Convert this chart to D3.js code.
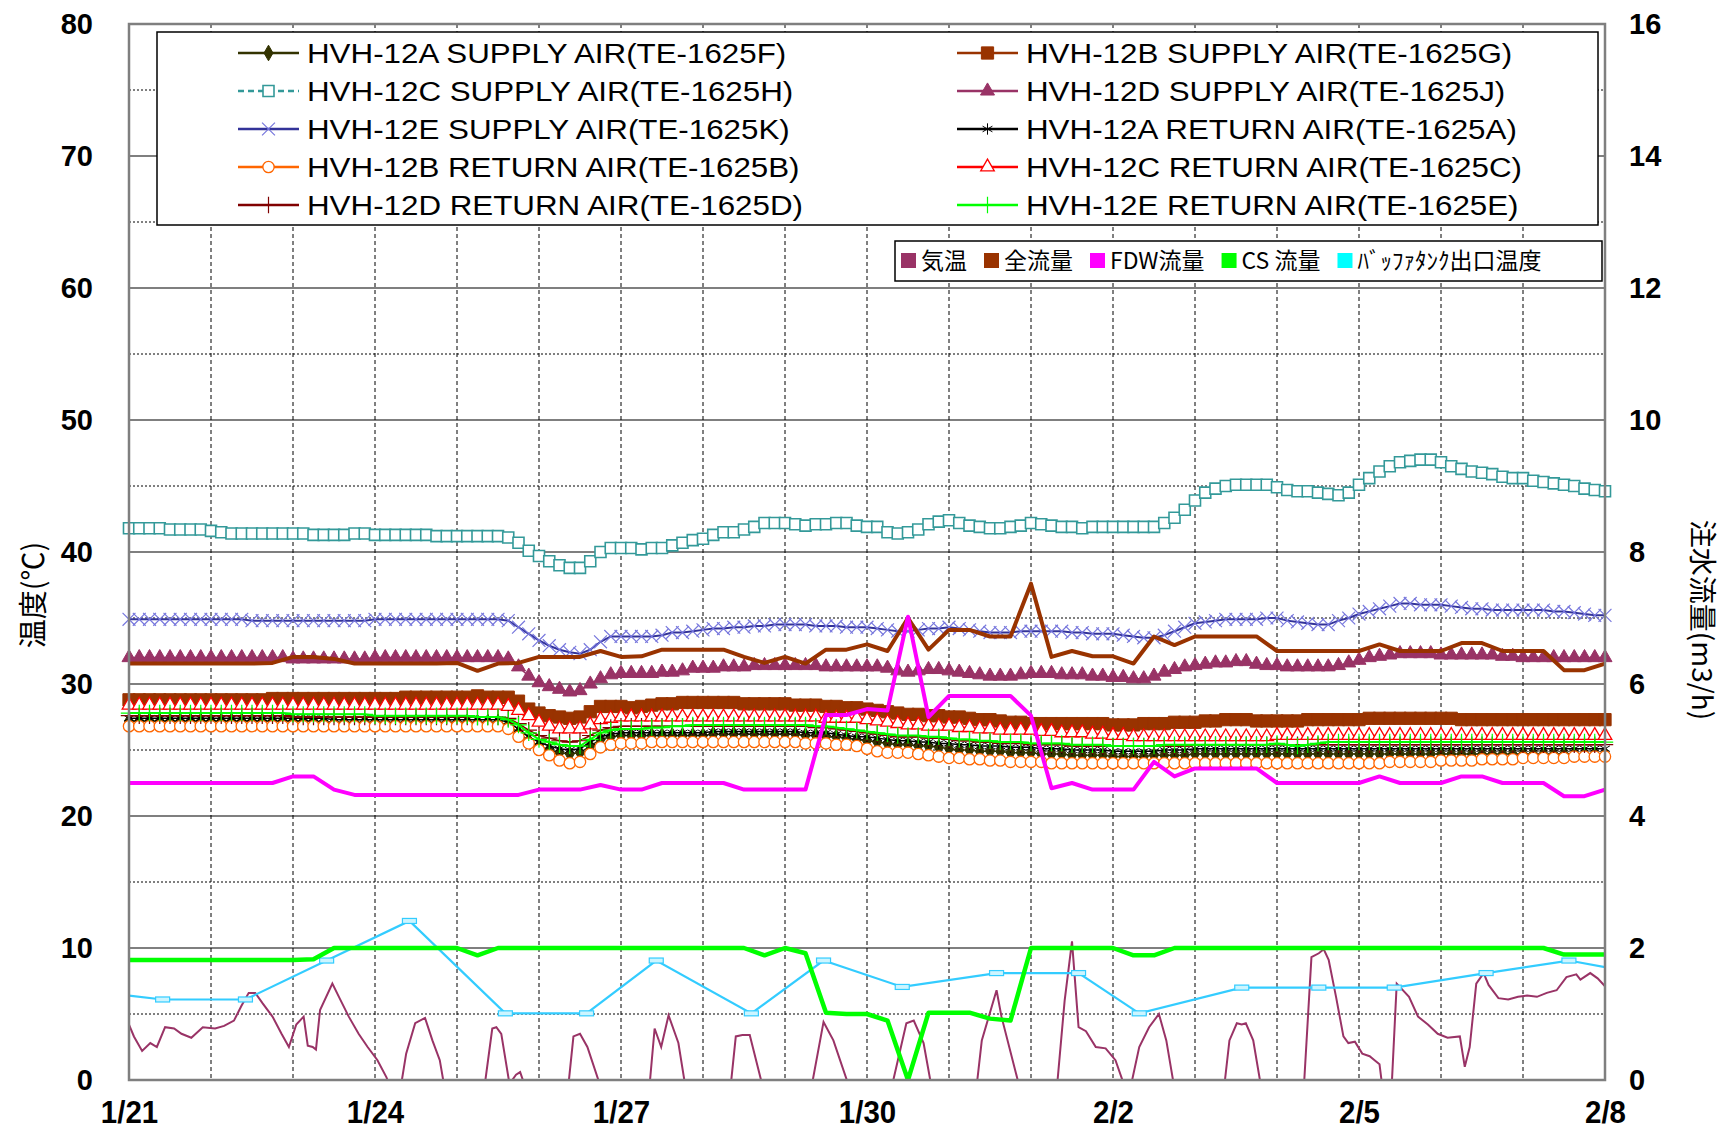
<!DOCTYPE html>
<html>
<head>
<meta charset="utf-8">
<script src="https://cdn.jsdelivr.net/npm/d3@7"></script>
<style>
  body { margin: 0; background: #fff; }
  text { font-family: "Liberation Sans", Arial, sans-serif; fill: #000; }
  .jp { font-family: "Noto Sans CJK JP", sans-serif; }
</style>
</head>
<body>
<svg id="chart" width="1724" height="1131"></svg>
<script>
// ---- data ----
// x axis: days counted from 1/21 0:00
const dateLabels = ['1/21', '1/24', '1/27', '1/30', '2/2', '2/5', '2/8'];
const dateTickDays = [0, 3, 6, 9, 12, 15, 18];
const tempTicks = [0, 10, 20, 30, 40, 50, 60, 70, 80];
const flowTicks = [0, 2, 4, 6, 8, 10, 12, 14, 16];

// HVH temperatures, one reading every 3 hours (8 per day), degC
const hvhStepDays = 0.125;
const hvh12aSupply = [
  27.2,27.2,27.2,27.2,27.2,27.2,27.2,27.2, 27.2,27.2,27.2,27.2,27.2,27.2,27.2,27.2,
  27.2,27.2,27.2,27.1,27.1,27.1,27.1,27.1, 27.1,27.1,27.1,27.1,27.1,27.1,27.1,27.1,
  27.1,27.1,27.1,27.1,27.1,26.9,26.3,25.7, 25.3,25.0,24.8,24.7,24.8,25.3,25.8,26.0,
  26.1,26.1,26.1,26.1,26.1,26.1,26.1,26.1, 26.1,26.2,26.2,26.2,26.2,26.2,26.2,26.2,
  26.2,26.2,26.1,26.1,26.0,26.0,25.9,25.8, 25.7,25.6,25.5,25.4,25.4,25.3,25.3,25.2,
  25.1,25.0,25.0,24.9,24.9,24.9,24.8,24.8, 24.8,24.7,24.7,24.7,24.6,24.6,24.6,24.6,
  24.5,24.5,24.5,24.5,24.6,24.6,24.6,24.6, 24.7,24.7,24.7,24.7,24.7,24.7,24.7,24.7,
  24.7,24.7,24.7,24.7,24.7,24.7,24.7,24.7, 24.7,24.7,24.7,24.7,24.7,24.7,24.7,24.7,
  24.7,24.7,24.7,24.7,24.7,24.7,24.7,24.7, 24.7,24.7,24.7,24.7,24.7,24.7,24.7,24.7,
  24.7
];
const hvh12bSupply = [
  28.8,28.8,28.8,28.8,28.8,28.8,28.8,28.8, 28.8,28.8,28.8,28.8,28.8,28.8,28.9,28.9,
  28.9,28.9,28.9,28.9,28.9,28.9,28.9,28.9, 28.9,28.9,28.9,29.0,29.0,29.0,29.0,29.0,
  29.0,29.0,29.1,29.0,29.0,29.0,28.7,28.1, 27.8,27.6,27.5,27.4,27.5,27.9,28.3,28.3,
  28.3,28.2,28.3,28.4,28.5,28.5,28.6,28.6, 28.6,28.6,28.6,28.6,28.5,28.5,28.5,28.5,
  28.5,28.4,28.4,28.4,28.3,28.3,28.2,28.2, 28.1,28.0,27.9,27.8,27.7,27.7,27.6,27.6,
  27.5,27.5,27.4,27.3,27.3,27.2,27.1,27.1, 27.0,27.0,27.0,27.0,27.0,27.0,27.0,27.0,
  26.9,26.9,26.9,27.0,27.0,27.0,27.1,27.1, 27.1,27.2,27.2,27.3,27.3,27.3,27.2,27.2,
  27.2,27.2,27.2,27.3,27.3,27.3,27.3,27.3, 27.3,27.4,27.4,27.4,27.4,27.4,27.4,27.4,
  27.4,27.4,27.3,27.3,27.3,27.3,27.3,27.3, 27.3,27.3,27.3,27.3,27.3,27.3,27.3,27.3,
  27.3
];
const hvh12cSupply = [
  41.8,41.8,41.8,41.8,41.7,41.7,41.7,41.7, 41.6,41.5,41.4,41.4,41.4,41.4,41.4,41.4,
  41.4,41.4,41.3,41.3,41.3,41.3,41.4,41.4, 41.3,41.3,41.3,41.3,41.3,41.3,41.2,41.2,
  41.2,41.2,41.2,41.2,41.2,41.1,40.7,40.1, 39.7,39.3,39.0,38.8,38.8,39.3,40.0,40.3,
  40.3,40.3,40.2,40.3,40.3,40.5,40.7,40.9, 41.0,41.3,41.5,41.5,41.7,41.9,42.2,42.2,
  42.2,42.1,42.0,42.1,42.1,42.2,42.2,42.0, 41.9,41.9,41.5,41.4,41.5,41.7,42.1,42.3,
  42.4,42.2,42.0,41.9,41.8,41.8,41.9,42.0, 42.2,42.1,42.0,41.9,41.9,41.8,41.9,41.9,
  41.9,41.9,41.9,41.9,41.9,42.2,42.6,43.2, 43.9,44.5,44.8,45.0,45.1,45.1,45.1,45.1,
  44.9,44.7,44.6,44.6,44.5,44.4,44.3,44.5, 45.1,45.6,46.1,46.5,46.8,46.9,47.0,47.0,
  46.8,46.5,46.3,46.1,46.0,45.9,45.7,45.6, 45.6,45.4,45.3,45.2,45.1,45.0,44.8,44.7,
  44.6
];
const hvh12dSupply = [
  32.0,32.0,32.0,32.0,32.0,32.0,32.0,32.0, 32.0,32.0,32.0,32.0,32.0,32.0,32.0,32.0,
  31.9,31.9,31.9,31.9,31.9,31.9,31.9,31.9, 32.0,32.0,32.0,32.0,32.0,32.0,32.0,32.0,
  32.0,32.0,32.0,32.0,32.0,31.9,31.3,30.6, 30.1,29.8,29.6,29.4,29.5,30.0,30.4,30.7,
  30.8,30.8,30.8,30.8,30.9,30.9,31.0,31.2, 31.2,31.2,31.3,31.3,31.3,31.4,31.4,31.4,
  31.4,31.4,31.4,31.4,31.3,31.3,31.3,31.3, 31.3,31.3,31.2,31.0,30.9,31.0,31.1,31.1,
  31.0,30.9,30.8,30.7,30.6,30.6,30.6,30.7, 30.8,30.8,30.8,30.7,30.7,30.7,30.6,30.6,
  30.5,30.5,30.4,30.4,30.6,30.9,31.1,31.3, 31.4,31.5,31.6,31.6,31.7,31.7,31.5,31.4,
  31.4,31.3,31.3,31.3,31.3,31.3,31.4,31.6, 31.8,32.0,32.1,32.2,32.3,32.3,32.3,32.3,
  32.2,32.2,32.2,32.2,32.2,32.2,32.1,32.1, 32.0,32.0,32.0,32.0,32.0,32.0,32.0,32.0,
  32.0
];
const hvh12eSupply = [
  34.9,34.9,34.9,34.9,34.9,34.9,34.9,34.9, 34.9,34.9,34.9,34.9,34.8,34.8,34.8,34.8,
  34.8,34.8,34.8,34.8,34.8,34.8,34.8,34.8, 34.9,34.9,34.9,34.9,34.9,34.9,34.9,34.9,
  34.9,34.9,34.9,34.9,34.9,34.8,34.3,33.8, 33.3,32.9,32.6,32.4,32.3,32.6,33.2,33.6,
  33.6,33.6,33.6,33.6,33.7,33.9,33.9,34.0, 34.1,34.2,34.2,34.3,34.3,34.4,34.4,34.5,
  34.5,34.5,34.5,34.4,34.4,34.4,34.3,34.3, 34.3,34.2,34.1,34.0,34.0,34.1,34.2,34.2,
  34.3,34.2,34.1,34.0,33.9,33.9,33.9,34.0, 34.0,34.0,34.0,34.0,33.9,33.9,33.8,33.8,
  33.8,33.7,33.6,33.5,33.5,33.7,34.0,34.3, 34.6,34.7,34.8,34.9,34.9,34.9,34.9,35.0,
  35.0,34.8,34.7,34.6,34.5,34.5,34.8,35.0, 35.3,35.5,35.7,35.9,36.1,36.1,36.0,36.0,
  36.0,35.9,35.8,35.7,35.7,35.6,35.6,35.6, 35.6,35.6,35.6,35.5,35.5,35.4,35.3,35.2,
  35.2
];
const hvh12aReturn = [
  27.4,27.4,27.4,27.4,27.4,27.4,27.4,27.4, 27.4,27.4,27.4,27.4,27.4,27.4,27.4,27.4,
  27.4,27.4,27.4,27.4,27.3,27.3,27.3,27.3, 27.3,27.3,27.3,27.3,27.3,27.3,27.3,27.3,
  27.3,27.3,27.3,27.3,27.3,27.1,26.6,26.0, 25.6,25.3,25.1,25.0,25.1,25.6,26.0,26.2,
  26.3,26.3,26.3,26.3,26.3,26.3,26.3,26.3, 26.3,26.4,26.4,26.4,26.4,26.4,26.4,26.4,
  26.4,26.4,26.3,26.3,26.3,26.2,26.1,26.0, 26.0,25.9,25.8,25.7,25.7,25.6,25.6,25.5,
  25.5,25.4,25.4,25.3,25.3,25.3,25.2,25.2, 25.2,25.1,25.1,25.1,25.0,25.0,25.0,25.0,
  24.9,24.9,24.9,24.9,24.9,25.0,25.0,25.0, 25.1,25.1,25.1,25.1,25.1,25.1,25.1,25.1,
  25.1,25.1,25.1,25.1,25.1,25.1,25.1,25.1, 25.1,25.1,25.1,25.1,25.1,25.1,25.1,25.1,
  25.1,25.1,25.1,25.1,25.1,25.1,25.1,25.1, 25.1,25.1,25.1,25.1,25.1,25.1,25.1,25.1,
  25.1
];
const hvh12bReturn = [
  26.8,26.8,26.8,26.8,26.8,26.8,26.8,26.8, 26.8,26.8,26.8,26.8,26.8,26.8,26.8,26.8,
  26.8,26.8,26.8,26.8,26.8,26.8,26.8,26.8, 26.8,26.8,26.8,26.8,26.8,26.8,26.8,26.8,
  26.8,26.8,26.8,26.8,26.8,26.6,26.0,25.5, 25.0,24.6,24.2,24.0,24.1,24.7,25.2,25.4,
  25.5,25.5,25.5,25.6,25.6,25.6,25.6,25.6, 25.6,25.6,25.6,25.6,25.6,25.6,25.6,25.6,
  25.6,25.6,25.5,25.5,25.5,25.4,25.4,25.3, 25.1,24.9,24.8,24.8,24.8,24.7,24.6,24.5,
  24.4,24.4,24.3,24.3,24.2,24.2,24.1,24.1, 24.1,24.1,24.0,24.0,24.0,24.0,24.0,24.0,
  24.0,24.0,24.0,24.0,24.0,24.0,24.0,24.0, 24.0,24.0,24.0,24.0,24.0,24.0,24.0,24.0,
  24.0,24.0,24.0,24.0,24.0,24.0,24.0,24.0, 24.0,24.0,24.0,24.1,24.1,24.1,24.1,24.1,
  24.2,24.2,24.2,24.2,24.3,24.3,24.3,24.3, 24.4,24.4,24.4,24.4,24.4,24.5,24.5,24.5,
  24.5
];
const hvh12cReturn = [
  28.4,28.4,28.4,28.4,28.4,28.4,28.4,28.4, 28.4,28.4,28.4,28.4,28.4,28.4,28.4,28.4,
  28.4,28.4,28.4,28.4,28.4,28.4,28.4,28.4, 28.4,28.4,28.4,28.4,28.4,28.4,28.4,28.4,
  28.4,28.4,28.4,28.4,28.4,28.3,28.0,27.6, 27.1,26.8,26.6,26.6,26.6,26.9,27.3,27.4,
  27.5,27.5,27.5,27.5,27.5,27.5,27.5,27.5, 27.5,27.5,27.5,27.5,27.5,27.5,27.5,27.5,
  27.5,27.5,27.5,27.5,27.4,27.4,27.4,27.4, 27.3,27.2,27.1,27.0,26.9,26.9,26.8,26.8,
  26.8,26.7,26.7,26.6,26.6,26.5,26.5,26.5, 26.5,26.4,26.4,26.3,26.3,26.3,26.2,26.2,
  26.1,26.1,26.0,26.0,26.0,26.0,26.0,26.0, 26.0,26.0,26.0,26.0,26.0,26.0,26.0,26.0,
  26.1,26.1,26.1,26.1,26.1,26.1,26.1,26.1, 26.1,26.1,26.1,26.1,26.1,26.1,26.1,26.1,
  26.1,26.1,26.1,26.1,26.1,26.1,26.1,26.1, 26.1,26.1,26.1,26.1,26.1,26.1,26.1,26.1,
  26.1
];
const hvh12dReturn = [
  27.6,27.6,27.6,27.6,27.6,27.6,27.6,27.6, 27.6,27.6,27.6,27.6,27.6,27.6,27.6,27.6,
  27.5,27.5,27.5,27.5,27.5,27.5,27.5,27.5, 27.5,27.5,27.5,27.5,27.5,27.5,27.5,27.5,
  27.5,27.5,27.5,27.5,27.5,27.4,27.0,26.5, 26.1,25.9,25.7,25.6,25.7,26.1,26.5,26.7,
  26.8,26.8,26.8,26.8,26.8,26.8,26.8,26.8, 26.8,26.8,26.8,26.8,26.8,26.8,26.8,26.8,
  26.8,26.8,26.8,26.7,26.7,26.6,26.5,26.4, 26.3,26.2,26.1,26.0,26.0,26.0,25.9,25.9,
  25.8,25.7,25.7,25.6,25.6,25.5,25.5,25.5, 25.4,25.4,25.4,25.4,25.3,25.3,25.3,25.3,
  25.3,25.3,25.3,25.3,25.3,25.3,25.3,25.3, 25.4,25.4,25.4,25.4,25.4,25.4,25.4,25.4,
  25.4,25.4,25.4,25.4,25.4,25.4,25.4,25.4, 25.4,25.4,25.4,25.4,25.4,25.4,25.4,25.4,
  25.4,25.4,25.4,25.4,25.4,25.4,25.4,25.4, 25.4,25.4,25.4,25.4,25.4,25.4,25.4,25.4,
  25.4
];
const hvh12eReturn = [
  27.8,27.8,27.8,27.8,27.8,27.8,27.8,27.8, 27.8,27.8,27.8,27.8,27.8,27.8,27.8,27.8,
  27.7,27.7,27.7,27.7,27.7,27.7,27.7,27.7, 27.6,27.6,27.6,27.6,27.6,27.6,27.6,27.6,
  27.6,27.6,27.5,27.5,27.5,27.3,26.9,26.3, 25.8,25.6,25.4,25.3,25.3,25.8,26.3,26.5,
  26.6,26.6,26.6,26.7,26.7,26.8,26.8,26.9, 26.9,26.9,26.9,26.9,26.9,26.9,26.9,26.9,
  26.9,26.9,26.9,26.8,26.8,26.7,26.6,26.5, 26.4,26.3,26.2,26.1,26.1,26.1,26.0,26.0,
  25.9,25.8,25.8,25.7,25.7,25.6,25.6,25.6, 25.5,25.5,25.5,25.5,25.4,25.4,25.4,25.4,
  25.3,25.3,25.3,25.3,25.3,25.4,25.4,25.4, 25.4,25.4,25.4,25.4,25.4,25.4,25.4,25.4,
  25.5,25.4,25.3,25.4,25.5,25.6,25.6,25.6, 25.6,25.6,25.6,25.6,25.6,25.6,25.6,25.6,
  25.6,25.6,25.6,25.6,25.6,25.6,25.6,25.6, 25.6,25.6,25.6,25.6,25.6,25.6,25.6,25.6,
  25.6
];

// outdoor air temperature [day, degC] (below 0 is cut off by the axis)
const airTemp = [
  [0,4.2],[0.06,3.3],[0.16,2.2],[0.26,2.8],[0.34,2.5],[0.44,4.0],[0.55,3.9],[0.64,3.5],[0.76,3.2],[0.9,4.0],
  [1.05,3.9],[1.16,4.1],[1.28,4.5],[1.37,5.6],[1.46,6.6],[1.54,6.6],[1.63,5.8],[1.75,4.8],[1.86,3.5],[1.95,2.5],
  [2.04,4.2],[2.13,4.8],[2.18,2.6],[2.24,2.5],[2.28,2.3],[2.33,5.3],[2.48,7.3],[2.56,6.3],[2.68,4.8],[2.8,3.5],
  [2.91,2.5],[3.03,1.5],[3.14,0.2],[3.17,-0.3],[3.25,-3],[3.32,-0.3],[3.38,2.0],[3.49,4.3],[3.61,4.7],[3.7,3.0],
  [3.79,1.5],[3.84,-0.3],[4.1,-3],[4.34,-0.3],[4.43,3.9],[4.48,4.0],[4.54,3.5],[4.64,-0.3],[4.72,0.4],[4.77,0.6],
  [4.82,-0.3],[5.1,-3],[5.36,-0.3],[5.42,3.3],[5.5,3.5],[5.59,2.5],[5.74,-0.3],[6.0,-3],[6.35,-0.3],[6.41,3.9],
  [6.49,2.5],[6.58,4.9],[6.7,2.8],[6.78,-0.3],[7.0,-3],[7.34,-0.3],[7.4,3.3],[7.48,3.4],[7.57,3.4],[7.72,-0.3],
  [8.0,-3],[8.33,-0.3],[8.47,4.4],[8.59,3.0],[8.77,-0.3],[9.0,-3],[9.31,-0.3],[9.48,4.3],[9.57,4.5],[9.69,2.8],
  [9.78,-0.3],[10.0,-3],[10.34,-0.3],[10.4,3.0],[10.58,6.8],[10.64,4.8],[10.85,-0.3],[11.1,-3],[11.32,-0.3],[11.41,6.0],
  [11.5,10.5],[11.58,4.0],[11.67,3.7],[11.79,2.5],[11.91,2.4],[12.03,1.5],[12.12,-0.1],[12.23,-0.1],[12.32,2.5],[12.44,4.0],
  [12.56,5.0],[12.65,3.0],[12.74,-0.3],[13.0,-3],[13.36,-0.3],[13.42,3.0],[13.51,4.3],[13.57,4.2],[13.62,4.3],[13.71,3.0],
  [13.8,-0.3],[14.1,-3],[14.33,-0.3],[14.42,9.3],[14.51,9.6],[14.57,9.9],[14.63,9.1],[14.72,6.3],[14.81,3.3],[14.87,2.8],
  [14.95,2.9],[15.04,2.0],[15.13,1.8],[15.19,1.5],[15.25,1.2],[15.28,-0.3],[15.34,-1],[15.4,-0.3],[15.46,7.3],[15.52,6.9],
  [15.61,6.3],[15.72,4.8],[15.84,4.2],[15.96,3.5],[16.08,3.2],[16.23,3.3],[16.29,1.0],[16.35,2.5],[16.43,7.3],[16.52,8.1],
  [16.58,7.2],[16.7,6.2],[16.82,6.1],[16.94,6.3],[17.05,6.4],[17.17,6.3],[17.29,6.6],[17.41,6.8],[17.53,7.8],[17.65,8.0],
  [17.7,7.6],[17.82,8.1],[17.91,7.7],[18.0,7.1]
];

// buffer tank outlet temperature [day, degC]
const bufferTemp = [
  [0,6.4],[0.41,6.1],[1.42,6.1],[2.41,9.05],[3.42,12.05],[4.59,5.05],[5.58,5.05],[6.43,9.05],[7.59,5.05],[8.47,9.05],
  [9.43,7.05],[10.58,8.1],[11.58,8.1],[12.32,5.05],[13.57,7.0],[14.51,7.0],[15.43,7.0],[16.55,8.1],[17.56,9.05],[18,8.55]
];

// injection flows, one reading every 6 hours (4 per day), m3/h
const flowStepDays = 0.25;
const totalFlow = [
  6.31,6.31,6.31,6.31, 6.31,6.31,6.31,6.32, 6.41,6.41,6.38,6.31, 6.31,6.31,6.31,6.31,
  6.32,6.20,6.31,6.32, 6.41,6.41,6.41,6.50, 6.41,6.42,6.52,6.52, 6.52,6.52,6.41,6.32,
  6.41,6.31,6.52,6.52, 6.60,6.50,7.00,6.52, 6.82,6.82,6.72,6.72, 7.52,6.41,6.50,6.42,
  6.42,6.31,6.72,6.59, 6.72,6.72,6.72,6.72, 6.50,6.50,6.50,6.50, 6.50,6.60,6.50,6.50,
  6.50,6.62,6.62,6.50, 6.50,6.50,6.21,6.21, 6.31
];
const fdwFlow = [
  4.5,4.5,4.5,4.5, 4.5,4.5,4.5,4.5, 4.6,4.6,4.4,4.32, 4.32,4.32,4.32,4.32,
  4.32,4.32,4.32,4.32, 4.4,4.4,4.4,4.47, 4.4,4.4,4.5,4.5, 4.5,4.5,4.4,4.4,
  4.4,4.4,5.53,5.53, 5.62,5.6,7.02,5.5, 5.82,5.82,5.82,5.82, 5.52,4.42,4.5,4.4,
  4.4,4.4,4.82,4.6, 4.72,4.72,4.72,4.72, 4.5,4.5,4.5,4.5, 4.5,4.6,4.5,4.5,
  4.5,4.6,4.6,4.5, 4.5,4.5,4.3,4.3, 4.4
];
const csFlow = [
  1.82,1.82,1.82,1.82, 1.82,1.82,1.82,1.82, 1.82,1.83,2.0,2.0, 2.0,2.0,2.0,2.0,
  2.0,1.89,2.0,2.0, 2.0,2.0,2.0,2.0, 2.0,2.0,2.0,2.0, 2.0,2.0,2.0,1.89,
  2.0,1.92,1.02,1.0, 1.0,0.9,0.0,1.02, 1.02,1.02,0.93,0.9, 2.0,2.0,2.0,2.0,
  2.0,1.89,1.89,2.0, 2.0,2.0,2.0,2.0, 2.0,2.0,2.0,2.0, 2.0,2.0,2.0,2.0,
  2.0,2.0,2.0,2.0, 2.0,2.0,1.9,1.9, 1.9
];

// ---- chart ----
const svg = d3.select('#chart');
const L = 129, R = 1605, T = 24, B = 1080;

const x = d3.scaleLinear().domain([0, 18]).range([L, R]);
const yL = d3.scaleLinear().domain([0, 80]).range([B, T]);
const yR = d3.scaleLinear().domain([0, 16]).range([B, T]);

// stretch text horizontally like the original rendering
function stretch(sel, f) {
  sel.each(function() {
    const w = this.getComputedTextLength();
    this.setAttribute('textLength', w * f);
    this.setAttribute('lengthAdjust', 'spacingAndGlyphs');
  });
}

svg.append('clipPath').attr('id', 'plotClip')
  .append('rect').attr('x', L).attr('y', T).attr('width', R - L).attr('height', B - T);

svg.append('rect').attr('x', L).attr('y', T).attr('width', R - L).attr('height', B - T).attr('fill', '#fff');

// grid
const grid = svg.append('g');
grid.selectAll('line.h').data(d3.range(5, 80, 5)).join('line')
  .attr('x1', L).attr('x2', R)
  .attr('y1', d => yL(d)).attr('y2', d => yL(d))
  .attr('stroke', d => d % 10 === 0 ? '#7f7f7f' : '#000')
  .attr('stroke-width', d => d % 10 === 0 ? 2 : 1)
  .attr('stroke-dasharray', d => d % 10 === 0 ? null : '2,2');
grid.selectAll('line.v').data(d3.range(1, 18)).join('line')
  .attr('x1', d => x(d)).attr('x2', d => x(d))
  .attr('y1', T).attr('y2', B)
  .attr('stroke', '#000').attr('stroke-width', 1)
  .attr('stroke-dasharray', '4,3');

// axes
const axL = svg.append('g').attr('transform', `translate(${L},0)`)
  .call(d3.axisLeft(yL).tickValues(tempTicks).tickSize(0).tickPadding(36));
const axR = svg.append('g').attr('transform', `translate(${R},0)`)
  .call(d3.axisRight(yR).tickValues(flowTicks).tickSize(0).tickPadding(24));
const axB = svg.append('g').attr('transform', `translate(0,${B})`)
  .call(d3.axisBottom(x).tickValues(dateTickDays).tickFormat((d, i) => dateLabels[i]).tickSize(0).tickPadding(20));
[axL, axR, axB].forEach(a => {
  a.select('.domain').remove();
  a.selectAll('text').style('font-family', '"Liberation Sans", Arial, sans-serif')
    .style('font-weight', 'bold').attr('fill', '#000');
});
axL.selectAll('text').style('font-size', '29px');
axR.selectAll('text').style('font-size', '29px');
axB.selectAll('text').style('font-size', '32px');
stretch(axB.selectAll('text'), 0.92);

// series styles
const symbols = {
  diamond: d3.symbolDiamond, square: d3.symbolSquare, triangle: d3.symbolTriangle,
  circle: d3.symbolCircle, times: d3.symbolTimes, asterisk: d3.symbolAsterisk, plus: d3.symbolPlus
};
const tempSeries = [
  { name: 'HVH-12A SUPPLY AIR(TE-1625F)', values: hvh12aSupply, line: '#333300', lw: 1.5, mark: 'diamond', size: 70, fill: '#333300', stroke: '#333300', sw: 1 },
  { name: 'HVH-12B SUPPLY AIR(TE-1625G)', values: hvh12bSupply, line: '#993300', lw: 1.5, mark: 'square', size: 150, fill: '#993300', stroke: '#993300', sw: 1 },
  { name: 'HVH-12C SUPPLY AIR(TE-1625H)', values: hvh12cSupply, line: '#339999', lw: 1.5, dash: '6,4', mark: 'square', size: 121, fill: '#fff', stroke: '#339999', sw: 1.6 },
  { name: 'HVH-12D SUPPLY AIR(TE-1625J)', values: hvh12dSupply, line: '#993366', lw: 1.5, mark: 'triangle', size: 85, fill: '#993366', stroke: '#993366', sw: 1 },
  { name: 'HVH-12E SUPPLY AIR(TE-1625K)', values: hvh12eSupply, line: '#333399', lw: 2, mark: 'times', size: 110, fill: 'none', stroke: '#7777dd', sw: 1.2 },
  { name: 'HVH-12A RETURN AIR(TE-1625A)', values: hvh12aReturn, line: '#000000', lw: 1.5, mark: 'asterisk', size: 90, fill: 'none', stroke: '#000', sw: 1 },
  { name: 'HVH-12B RETURN AIR(TE-1625B)', values: hvh12bReturn, line: '#ff6600', lw: 1.5, mark: 'circle', size: 100, fill: '#fff', stroke: '#ff6600', sw: 1.3 },
  { name: 'HVH-12C RETURN AIR(TE-1625C)', values: hvh12cReturn, line: '#ff0000', lw: 1.5, mark: 'triangle', size: 80, fill: '#fff', stroke: '#ff0000', sw: 1.3 },
  { name: 'HVH-12D RETURN AIR(TE-1625D)', values: hvh12dReturn, line: '#800000', lw: 1.5, mark: 'plus', size: 90, fill: 'none', stroke: '#800000', sw: 1.2 },
  { name: 'HVH-12E RETURN AIR(TE-1625E)', values: hvh12eReturn, line: '#00ff00', lw: 2, mark: 'plus', size: 90, fill: 'none', stroke: '#00ff00', sw: 1.2 }
];

function markerPath(s) {
  return d3.symbol().type(symbols[s.mark]).size(s.size)();
}

const plot = svg.append('g');
const hvhLine = d3.line().x((d, i) => x(i * hvhStepDays)).y(d => yL(d));

tempSeries.forEach(s => {
  const g = plot.append('g');
  g.append('path').datum(s.values)
    .attr('clip-path', 'url(#plotClip)')
    .attr('d', hvhLine)
    .attr('fill', 'none').attr('stroke', s.line).attr('stroke-width', s.lw)
    .attr('stroke-dasharray', s.dash || null);
  g.selectAll('path.m').data(s.values).join('path')
    .attr('class', 'm')
    .attr('transform', (d, i) => `translate(${x(i * hvhStepDays)},${yL(d)})`)
    .attr('d', markerPath(s))
    .attr('fill', s.fill).attr('stroke', s.stroke).attr('stroke-width', s.sw);
});

// air temperature
plot.append('path').datum(airTemp)
  .attr('clip-path', 'url(#plotClip)')
  .attr('d', d3.line().x(d => x(d[0])).y(d => yL(d[1])))
  .attr('fill', 'none').attr('stroke', '#993366').attr('stroke-width', 2);

// buffer tank outlet temperature
plot.append('path').datum(bufferTemp)
  .attr('clip-path', 'url(#plotClip)')
  .attr('d', d3.line().x(d => x(d[0])).y(d => yL(d[1])))
  .attr('fill', 'none').attr('stroke', '#33ccff').attr('stroke-width', 2.2);
plot.selectAll('rect.buf').data(bufferTemp.slice(1, -1)).join('rect')
  .attr('class', 'buf')
  .attr('x', d => x(d[0]) - 7).attr('y', d => yL(d[1]) - 2.5)
  .attr('width', 14).attr('height', 5)
  .attr('fill', '#ccf5ff').attr('stroke', '#33ccff').attr('stroke-width', 1.2);

// flows on the right axis
const flowLine = d3.line().x((d, i) => x(i * flowStepDays)).y(d => yR(d));
[[totalFlow, '#993300', 4], [fdwFlow, '#ff00ff', 4], [csFlow, '#00ff00', 4.5]].forEach(([vals, c, w]) => {
  plot.append('path').datum(vals)
    .attr('clip-path', 'url(#plotClip)')
    .attr('d', flowLine)
    .attr('fill', 'none').attr('stroke', c).attr('stroke-width', w)
    .attr('stroke-linejoin', 'round');
});

// frame
svg.append('rect').attr('x', L).attr('y', T).attr('width', R - L).attr('height', B - T)
  .attr('fill', 'none').attr('stroke', '#7f7f7f').attr('stroke-width', 2.5);

// axis titles
svg.append('text').attr('class', 'jp')
  .attr('transform', 'translate(31,595) rotate(-90)')
  .attr('text-anchor', 'middle').attr('dominant-baseline', 'central')
  .style('font-size', '29px').text('温度(℃)');
svg.append('text').attr('class', 'jp')
  .attr('transform', 'translate(1704,620) rotate(90)')
  .attr('text-anchor', 'middle').attr('dominant-baseline', 'central')
  .style('font-size', '28px').text('注水流量(m3/h)');

// legend 1 (HVH series)
const lg1 = svg.append('g');
lg1.append('rect').attr('x', 157).attr('y', 32).attr('width', 1441).attr('height', 193)
  .attr('fill', '#fff').attr('stroke', '#000').attr('stroke-width', 1.5);
tempSeries.forEach((s, i) => {
  const col = i % 2, row = Math.floor(i / 2);
  const lx = col === 0 ? 238 : 957, ly = 53 + row * 38;
  const g = lg1.append('g');
  g.append('line').attr('x1', lx).attr('x2', lx + 61).attr('y1', ly).attr('y2', ly)
    .attr('stroke', s.line).attr('stroke-width', 2.5).attr('stroke-dasharray', s.dash || null);
  g.append('path').attr('transform', `translate(${lx + 30.5},${ly})`)
    .attr('d', markerPath(s)).attr('fill', s.fill).attr('stroke', s.stroke).attr('stroke-width', s.sw);
  const t = g.append('text').attr('x', lx + 69).attr('y', ly).attr('dy', '0.36em')
    .style('font-size', '27px').text(s.name);
  stretch(t, 1.16);
});

// legend 2 (air temp, flows, buffer tank)
const lg2Items = [
  { label: '気温', color: '#993366' },
  { label: '全流量', color: '#993300' },
  { label: 'FDW流量', color: '#ff00ff' },
  { label: 'CS 流量', color: '#00ff00' },
  { label: 'ﾊﾞｯﾌｧﾀﾝｸ出口温度', color: '#00ffff' }
];
const lg2 = svg.append('g');
lg2.append('rect').attr('x', 895).attr('y', 241).attr('width', 707).attr('height', 40)
  .attr('fill', '#fff').attr('stroke', '#000').attr('stroke-width', 1.5);
let cx = 901;
lg2Items.forEach(it => {
  lg2.append('rect').attr('x', cx).attr('y', 253).attr('width', 15).attr('height', 15).attr('fill', it.color);
  const t = lg2.append('text').attr('class', 'jp').attr('x', cx + 20).attr('y', 261).attr('dy', '0.36em')
    .style('font-size', '23px').text(it.label);
  cx += 20 + t.node().getComputedTextLength() + 17;
});
</script>
</body>
</html>
